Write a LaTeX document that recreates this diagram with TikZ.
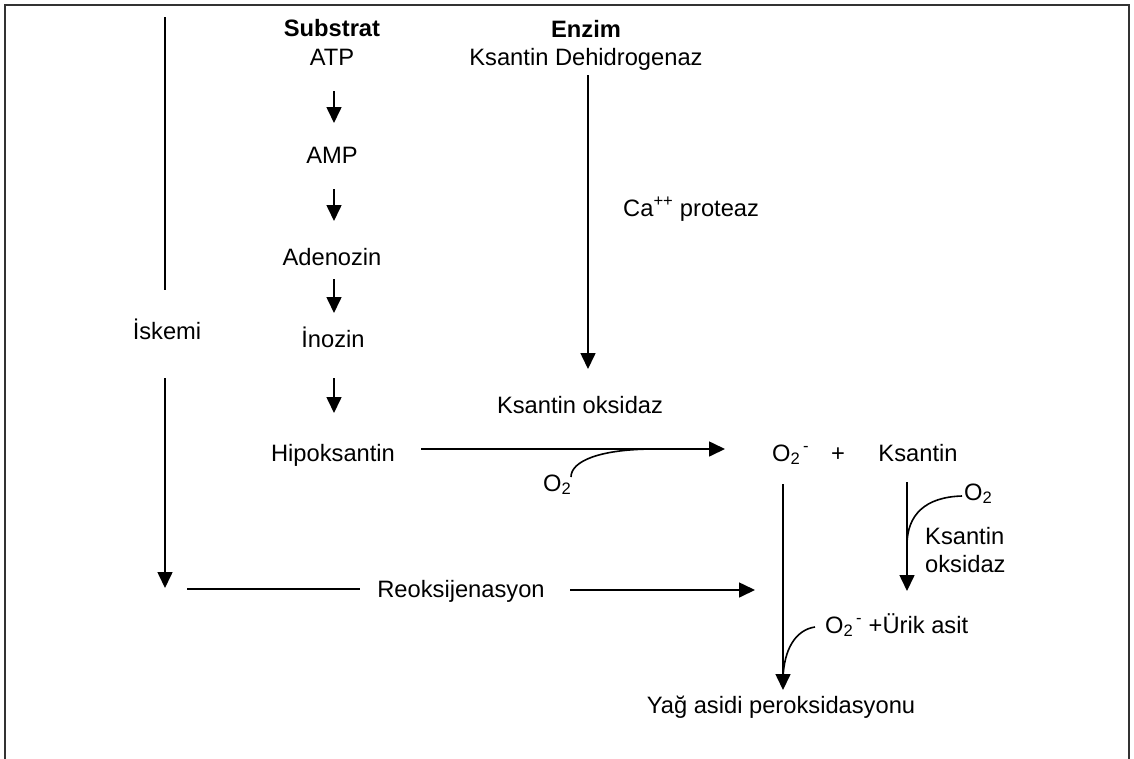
\documentclass[tikz,border=0pt]{standalone}
\usepackage{fontspec}
\setmainfont{Liberation Sans}
\usetikzlibrary{arrows.meta}
\begin{document}
\begin{tikzpicture}[x=1pt,y=-1pt,
  lbl/.style={anchor=base,inner sep=0pt,font=\fontsize{23.7}{28}\selectfont},
  lblw/.style={lbl,anchor=base west},
  ln/.style={line width=1.6pt},
  arr/.style={ln,-{Triangle[length=16pt,width=15pt]}},
  frame/.style={line width=2.6pt,draw=black!80}]
\useasboundingbox (0,0) rectangle (1134,758);
% open frame (no bottom edge)
\draw[frame] (5,762) -- (5,5) -- (1129,5) -- (1129,762);

% substrate column
\node[lbl] (substrat) at (332,36) {\bfseries Substrat};
\node[lbl] (atp) at (332,65) {ATP};
\node[lbl] (amp) at (332,163) {AMP};
\node[lbl] (adenozin) at (332,265) {Adenozin};
\node[lbl] (inozin) at (333,347) {İnozin};
\node[lbl] (hipo) at (333,461) {Hipoksantin};
% ischemia column
\node[lbl] (iskemi) at (167,339) {İskemi};
% enzyme column
\node[lbl] (enzim) at (586,37) {\bfseries Enzim};
\node[lbl] (kdh) at (586,65) {Ksantin Dehidrogenaz};
\node[lblw] (ca) at (623,216) {Ca\textsuperscript{++} proteaz};
\node[lbl] (ko) at (580,413) {Ksantin oksidaz};
\node[lblw] (o2a) at (543,491) {O\textsubscript{2}};
% products
\node[lblw] (sup) at (772,461) {O\textsubscript{2}\textsuperscript{\,-}};
\node[lbl] (plus) at (838,461) {+};
\node[lbl] (ksantin) at (918,461) {Ksantin};
\node[lblw] (o2b) at (964,500) {O\textsubscript{2}};
\node[lblw] (ko2) at (925,544) {Ksantin};
\node[lblw] (ko3) at (925,572) {oksidaz};
\node[lblw] (urik) at (825,633) {O\textsubscript{2}\textsuperscript{\,-} +Ürik asit};
\node[lbl] (reoks) at (461,597) {Reoksijenasyon};
\node[lbl] (yag) at (781,713) {Yağ asidi peroksidasyonu};

% connector end points
\coordinate (isktop) at (165,17);
\coordinate (iskA) at (165,290);
\coordinate (iskB) at (165,378);
\coordinate (iskend) at (165,588);
\coordinate (reA) at (187,589);
\coordinate (reB) at (360,589);
\coordinate (reC) at (570,590);
\coordinate (reD) at (755,590);
\coordinate (s1a) at (334,91);  \coordinate (s1b) at (334,123);
\coordinate (s2a) at (334,189); \coordinate (s2b) at (334,221);
\coordinate (s3a) at (334,279); \coordinate (s3b) at (334,313);
\coordinate (s4a) at (334,378); \coordinate (s4b) at (334,413);
\coordinate (ea) at (588,75);   \coordinate (eb) at (588,369);
\coordinate (ha) at (421,449);  \coordinate (hb) at (725,449);
\coordinate (hm) at (655,449);
\coordinate (o2aend) at (571,477);
\coordinate (va) at (783,484);  \coordinate (vb) at (783,690);
\coordinate (ka) at (907,482);  \coordinate (kb) at (907,591);
\coordinate (km) at (907,545);
\coordinate (o2bend) at (962,496);
\coordinate (uend) at (815,627);
\coordinate (um) at (783,678);

% ischemia / reoxygenation
\draw[ln] (isktop) -- (iskA);
\draw[arr] (iskB) -- (iskend);
\draw[ln] (reA) -- (reB);
\draw[arr] (reC) -- (reD);

% substrate chain
\draw[arr] (s1a) -- (s1b);
\draw[arr] (s2a) -- (s2b);
\draw[arr] (s3a) -- (s3b);
\draw[arr] (s4a) -- (s4b);

% enzyme conversion
\draw[arr] (ea) -- (eb);

% hypoxanthine oxidation with O2
\draw[arr] (ha) -- (hb);
\draw[ln] (o2aend) .. controls (571,461) and (600,449) .. (hm);

% xanthine oxidation with O2
\draw[arr] (ka) -- (kb);
\draw[ln] (o2bend) .. controls (925,497) and (907,515) .. (km);

% lipid peroxidation
\draw[arr] (va) -- (vb);
\draw[ln] (uend) .. controls (795,630) and (784,650) .. (um);
\end{tikzpicture}
\end{document}
